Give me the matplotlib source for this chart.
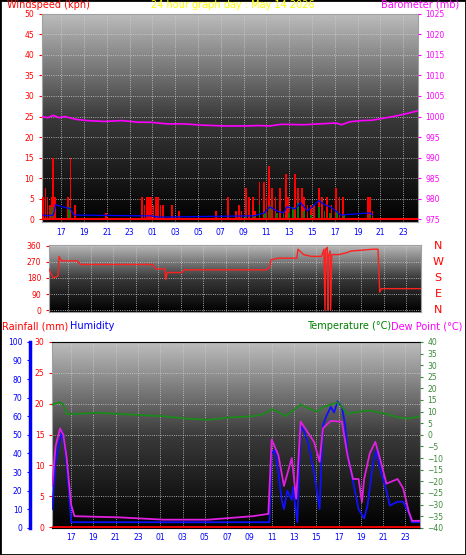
import numpy as np
import matplotlib
matplotlib.use("Agg")
import matplotlib.pyplot as plt
from matplotlib.colors import LinearSegmentedColormap

# time axis: hours since 15.3h on day 1
hour_labels = ["17","19","21","23","01","03","05","07","09","11","13","15","17","19","21","23"]
hour_pos = [1.7 + 2*k for k in range(len(hour_labels))]
T_END = 33.0

# wind gusts (kph): times and values
gust_t = [0.1,0.3,0.5,0.7,0.9,1.0,1.15,2.3,2.5,2.9,5.6,8.8,9.0,9.2,9.4,9.6,9.8,10.0,10.2,10.4,10.6,11.4,12.0,15.3,16.3,17.0,17.3,17.5,17.9,18.2,18.5,18.7,19.1,19.5,19.7,19.9,20.2,20.5,20.9,21.4,21.6,22.2,22.5,22.8,23.0,23.3,23.6,23.9,24.3,24.6,25.0,25.4,25.8,26.1,26.4,28.6,28.8,29.0]
gust_v = [5.5,7.5,5.5,3.5,5.5,15,5.5,5.5,15,3.5,1.5,5.5,3.5,5.5,5.5,5.5,3.5,5.5,5.5,3.5,3.5,3.5,2,2,5.5,2,3.5,2,7.5,5.5,5.5,2,9,9,5.5,13,7.5,5.5,7.5,11,5.5,11,7.5,7.5,5.5,3.5,3.5,3.5,7.5,5.5,5.5,3.5,7.5,5.5,5.5,5.5,5.5,2]
avg_t = [0.1,0.5,1.0,1.2,2.5,2.8,9.0,9.6,10.2,18.6,19.5,20.0,20.6,21.2,21.5,22.2,22.7,23.3,24.3,24.8,25.3,25.8,26.2,28.8,29.0]
avg_v = [1,0.8,1,3.5,2.5,1,0.8,0.8,0.5,0.8,1.5,3,2,1.5,3,2.5,4,2,4.5,3.5,3,2,1,1.5,1]
gust2_t = [0.9,2.4,17.9,18.6,19.1,19.6,20.0,20.6,21.2,21.7,22.0,22.5,23.0,23.6,24.3,24.8,25.3,25.9,26.5,28.8]
gust2_v = [3,3,0.5,1,3.5,1.5,3.5,1.5,1.5,1.5,3,4,2,1,3,2,1.5,2,1,1]

# barometer (mb)
baro_t = [0,0.5,1.0,1.5,2.0,3.0,4.0,5.5,7.0,8.5,9.5,11.0,12.5,14.0,16.0,18.0,19.0,20.0,21.0,23.0,25.0,25.8,26.3,27.0,28.0,29.0,30.0,31.0,32.0,33.0]
baro_v = [1000,999.7,1000.3,999.7,1000,999.3,999,998.8,999,998.6,998.6,998.2,998.2,997.9,997.7,997.7,997.8,997.7,998.1,998.0,998.3,998.4,998.0,998.7,999.0,999.1,999.6,1000.1,1000.7,1001.4]

# wind direction (deg)
dir_t = [0,0.3,0.4,0.8,0.9,1.1,2.5,2.8,9.2,9.5,10.3,10.35,10.5,11.8,12.0,19.3,19.6,19.7,20.3,22.0,22.1,22.6,23.3,24.2,24.4,24.5,24.55,24.7,24.75,24.8,24.95,25.0,25.1,25.7,26.4,26.8,28.8,29.2,29.35,29.5,33.0]
dir_v = [230,190,180,190,300,275,275,255,255,230,230,170,210,210,225,225,240,280,290,290,340,310,300,300,340,0,340,350,0,300,330,0,310,310,320,330,340,340,100,120,120]

# temperature / dew point (deg C), humidity (%)
temp_t = [0,0.7,1.0,1.3,2,4,6,8,10,12,14,16,18,19,19.7,20.3,20.9,21.5,22.3,23.2,23.8,24.3,25,25.6,26,26.5,27.5,28.5,29,30,31,32,33]
temp_v = [13,14,13,9,9,9.5,9,8.5,8,7,6.5,7.5,8,9,11,10,8,10,13,11,10,12,13,14,12,9,10,10.5,10,9,7.5,7,8]
hum_t = [0,0.3,0.6,0.9,1.2,1.5,1.7,19.5,19.7,20.0,20.3,20.6,20.8,21.1,21.5,21.6,22.0,22.3,22.6,23.0,23.5,24.0,24.3,24.6,25.0,25.3,25.6,26.0,26.3,26.5,27.0,27.5,28.0,28.3,28.8,29.1,29.5,30.0,30.3,31.0,31.5,32.0,32.3,33.0]
hum_v = [10,35,45,52,40,20,3,3,40,42,30,15,10,20,15,22,3,55,52,45,30,10,55,60,65,62,68,65,55,40,25,10,5,12,35,42,30,20,12,14,14,8,3,3]
dew_t = [0,0.3,0.7,1.0,1.3,1.7,2,6,10,14,18,19.4,19.7,20.3,20.8,21.5,21.9,22.3,23.5,24.0,24.3,25.0,26.0,26.5,27.0,27.5,27.8,28.0,28.5,29.0,29.5,30.0,31.0,31.5,32.0,32.3,33.0]
dew_v = [-22,-5,2.8,0,-10,-30,-35,-35.5,-36.5,-36.5,-35,-34,-2,-8.7,-22,-10,-27.5,5.7,-3,-11.6,2.8,6,5.7,-8.7,-19,-19,-29,-19,-8,-3,-11.6,-21,-19,-23,-33,-37,-37]

fig = plt.figure(figsize=(4.66, 5.55), dpi=100, facecolor="white")
fig.patches.append(plt.Rectangle((0, 0), 1, 1, transform=fig.transFigure, fill=False, ec="black", lw=2))
cmap = LinearSegmentedColormap.from_list("bg", ["#000000", "#3a3a3a", "#bdbdbd"])
FS = 5.5
TFS = 7

def background(ax):
    grad = np.linspace(0, 1, 256).reshape(-1, 1)
    ax.imshow(grad, aspect="auto", cmap=cmap, origin="lower", extent=[0, 1, 0, 1],
              transform=ax.transAxes, zorder=0)
    ax.grid(True, color="#d0d0d0", ls=":", lw=0.6, zorder=1)
    for s in ax.spines.values():
        s.set_color("#a0a0a0")

def xaxis(ax, show=True):
    ax.set_xlim(0, T_END)
    ax.set_xticks(hour_pos)
    ax.set_xticklabels(hour_labels if show else [], color="blue", fontsize=FS)
    ax.tick_params(axis="x", length=0, pad=4)

# ---- top panel
ax1 = fig.add_axes([0.090, 0.600, 0.807, 0.375])
background(ax1)
xaxis(ax1)
ax1.bar(gust_t, gust_v, width=0.15, color="red", zorder=3)
ax1.bar(gust2_t, gust2_v, width=0.15, color="green", zorder=4)
ax1.plot(avg_t, avg_v, color="blue", lw=0.9, zorder=4)
ax1.axhline(0, color="red", lw=1.5, zorder=5)
ax1.set_ylim(-0.7, 50)
ax1.set_yticks(range(0, 51, 5))
ax1.tick_params(axis="y", colors="red", labelsize=FS, length=2)
ax1b = ax1.twinx()
ax1b.set_ylim(974.3, 1025)
ax1b.plot(baro_t, baro_v, color="#ff00ff", lw=1.2, zorder=5)
ax1b.set_yticks(range(975, 1026, 5))
ax1b.tick_params(axis="y", colors="#ff00ff", labelsize=FS, length=2)
for s in ax1b.spines.values():
    s.set_visible(False)
fig.text(0.015, 0.991, "Windspeed (kph)", color="red", fontsize=TFS, va="center")
fig.text(0.5, 0.991, "24 hour graph day : May 14 2026", color="yellow", fontsize=TFS, va="center", ha="center")
fig.text(0.985, 0.991, "Barometer (mb)", color="#ff00ff", fontsize=TFS, va="center", ha="right")

# ---- middle panel
ax2 = fig.add_axes([0.105, 0.438, 0.798, 0.121])
background(ax2)
xaxis(ax2, show=False)
ax2.plot(dir_t, dir_v, color="#ff2020", lw=1.0, zorder=3)
ax2.set_ylim(-10, 365)
ax2.set_yticks([0, 90, 180, 270, 360])
ax2.tick_params(axis="y", colors="red", labelsize=FS, length=2)
for i, c in enumerate(["N", "E", "S", "W", "N"]):
    fig.text(0.94, 0.438 + 0.121 * (i * 90 + 10) / 375, c, color="red", fontsize=8, ha="center", va="center")

fig.text(0.004, 0.412, "Rainfall (mm)", color="red", fontsize=TFS, va="center")
fig.text(0.150, 0.412, "Humidity", color="blue", fontsize=TFS, va="center")
fig.text(0.840, 0.412, "Temperature (°C)", color="green", fontsize=TFS, va="center", ha="right")
fig.text(0.993, 0.412, "Dew Point (°C)", color="#ff00ff", fontsize=TFS, va="center", ha="right")

# ---- bottom panel
ax3 = fig.add_axes([0.112, 0.049, 0.789, 0.335])
background(ax3)
xaxis(ax3)
ax3.set_ylim(-0.1, 30)
ax3.set_yticks(range(0, 31, 5))
ax3.tick_params(axis="y", colors="red", labelsize=FS, length=2)
ax3.axhline(0, color="red", lw=2, zorder=6)
axh = ax3.twinx()
axh.spines["right"].set_visible(False)
axh.spines["left"].set_position(("axes", -0.06))
axh.spines["left"].set_visible(True)
axh.spines["left"].set_color("blue")
axh.spines["left"].set_linewidth(2.5)
axh.yaxis.set_label_position("left")
axh.yaxis.set_ticks_position("left")
axh.set_ylim(0, 100)
axh.set_yticks(range(0, 101, 10))
axh.tick_params(axis="y", colors="blue", labelsize=FS, length=2)
axh.plot(hum_t, hum_v, color="#1010ff", lw=1.3, zorder=4)
axt = ax3.twinx()
axt.set_ylim(-40, 40)
axt.set_yticks(range(-40, 41, 5))
axt.tick_params(axis="y", colors="#3a8a3a", labelsize=FS, length=2)
for s in axt.spines.values():
    s.set_visible(False)
axt.plot(temp_t, temp_v, color="#1a8a1a", lw=1.3, zorder=4)
axt.plot(dew_t, dew_v, color="#e020e0", lw=1.3, zorder=5)

fig.savefig("out.png", dpi=100, facecolor="white")
